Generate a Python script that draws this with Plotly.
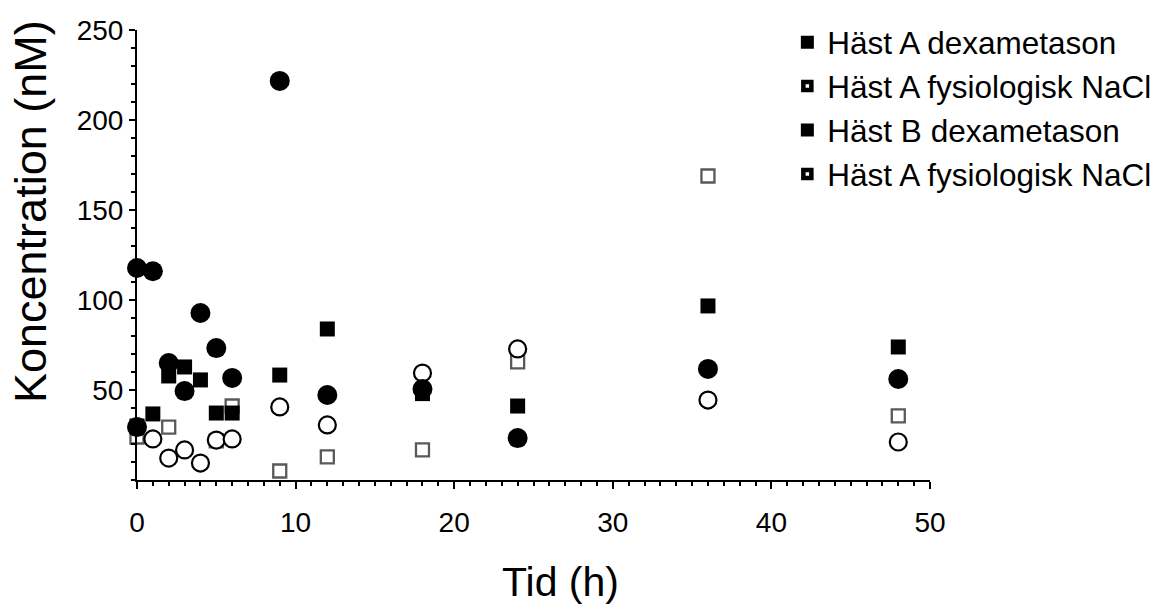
import plotly.graph_objects as go

FONT = "Liberation Sans, Arial, sans-serif"

# Häst A dexametason (filled squares)
a_dexa_x = [0, 1, 2, 3, 4, 5, 6, 9, 12, 18, 24, 36, 48]
a_dexa_y = [30, 36.7, 57.8, 62.8, 55.6, 37.2, 37.2, 58.3, 83.9, 48, 41.1, 96.7, 73.9]

# Häst A fysiologisk NaCl (open squares)
a_nacl_x = [0, 2, 5, 6, 9, 12, 18, 24, 36, 48]
a_nacl_y = [23.9, 29.4, 21.7, 41.1, 5, 12.8, 16.7, 65.6, 168.9, 35.6]

# Häst B dexametason (filled circles)
b_dexa_x = [0, 0, 1, 2, 3, 4, 5, 6, 9, 12, 18, 24, 36, 48]
b_dexa_y = [117.8, 29.4, 116, 65, 49.4, 92.8, 73.3, 56.7, 221.7, 47.2, 50.5, 23.3, 61.7, 56.1]

# second NaCl series (open circles)
b_nacl_x = [1, 2, 3, 4, 5, 6, 9, 12, 18, 24, 36, 48]
b_nacl_y = [22.8, 12.2, 16.7, 9.4, 22.2, 22.8, 40.6, 30.6, 59.4, 72.8, 44.4, 21.1]

legend_names = ["Häst A dexametason", "Häst A fysiologisk NaCl",
                "Häst B dexametason", "Häst A fysiologisk NaCl"]

x_ticks = [0, 10, 20, 30, 40, 50]
y_ticks = [50, 100, 150, 200, 250]

fig = go.Figure()

# data traces (draw order: open squares, open circles, filled squares, filled circles)
fig.add_trace(go.Scatter(x=a_nacl_x, y=a_nacl_y, mode="markers", showlegend=False, cliponaxis=False,
                         marker=dict(symbol="square", size=13, color="white",
                                     line=dict(color="#595959", width=2.3))))
fig.add_trace(go.Scatter(x=b_nacl_x, y=b_nacl_y, mode="markers", showlegend=False, cliponaxis=False,
                         marker=dict(symbol="circle", size=17, color="white",
                                     line=dict(color="black", width=2.2))))
fig.add_trace(go.Scatter(x=a_dexa_x, y=a_dexa_y, mode="markers", showlegend=False, cliponaxis=False,
                         marker=dict(symbol="square", size=15, color="black",
                                     line=dict(width=0))))
fig.add_trace(go.Scatter(x=b_dexa_x, y=b_dexa_y, mode="markers", showlegend=False, cliponaxis=False,
                         marker=dict(symbol="circle", size=20, color="black",
                                     line=dict(width=0))))

# legend entries (reference legend shows square glyphs for all)
legend_styles = [
    dict(symbol="square", size=11, color="black", line=dict(color="black", width=2)),
    dict(symbol="square", size=8, color="white", line=dict(color="black", width=4.5)),
    dict(symbol="square", size=11, color="black", line=dict(color="black", width=2)),
    dict(symbol="square", size=8, color="white", line=dict(color="black", width=4.5)),
]
for i, (name, st) in enumerate(zip(legend_names, legend_styles)):
    fig.add_trace(go.Scatter(x=[None], y=[None], mode="markers", name=name,
                             marker=st, legendgroup=f"g{i}"))

fig.update_layout(
    width=1163, height=607,
    margin=dict(l=137, r=233, t=30, b=127, autoexpand=False),
    plot_bgcolor="white", paper_bgcolor="white",
    font=dict(family=FONT, color="black"),
    legend=dict(xref="container", yref="container", x=0.677, y=0.975,
                xanchor="left", yanchor="top",
                font=dict(family=FONT, size=31.5, color="black"),
                tracegroupgap=0, itemsizing="trace",
                bgcolor="rgba(0,0,0,0)"),
    showlegend=True,
)

fig.update_xaxes(
    range=[0, 50], tickvals=x_ticks, ticktext=[str(v) for v in x_ticks],
    showgrid=False, zeroline=False, showline=True, linecolor="black", linewidth=2,
    ticks="outside", ticklen=7, tickwidth=2, tickcolor="black",
    tickfont=dict(family=FONT, size=28, color="black"),
    ticklabelstandoff=9,
    minor=dict(dtick=1, tick0=0, ticks="outside", ticklen=4, tickwidth=2, tickcolor="black"),
)
fig.update_yaxes(
    range=[0, 250], tickvals=y_ticks, ticktext=[str(v) for v in y_ticks],
    showgrid=False, zeroline=False, showline=True, linecolor="black", linewidth=2,
    ticks="outside", ticklen=6, tickwidth=2, tickcolor="black",
    tickfont=dict(family=FONT, size=28, color="black"),
    ticklabelstandoff=0,
    minor=dict(dtick=10, tick0=0, ticks="outside", ticklen=4, tickwidth=2, tickcolor="black"),
)

fig.add_annotation(text="Tid (h)", xref="paper", yref="paper", x=(560 - 137) / 793,
                   y=-(582 - 480) / 450, showarrow=False, xanchor="center", yanchor="middle",
                   font=dict(family=FONT, size=41, color="black"))
fig.add_annotation(text="Koncentration (nM)", xref="paper", yref="paper",
                   x=-(137 - 30) / 793, y=(480 - 212) / 450, showarrow=False, textangle=-90,
                   xanchor="center", yanchor="middle",
                   font=dict(family=FONT, size=45, color="black"))

fig.write_html("out.html")
